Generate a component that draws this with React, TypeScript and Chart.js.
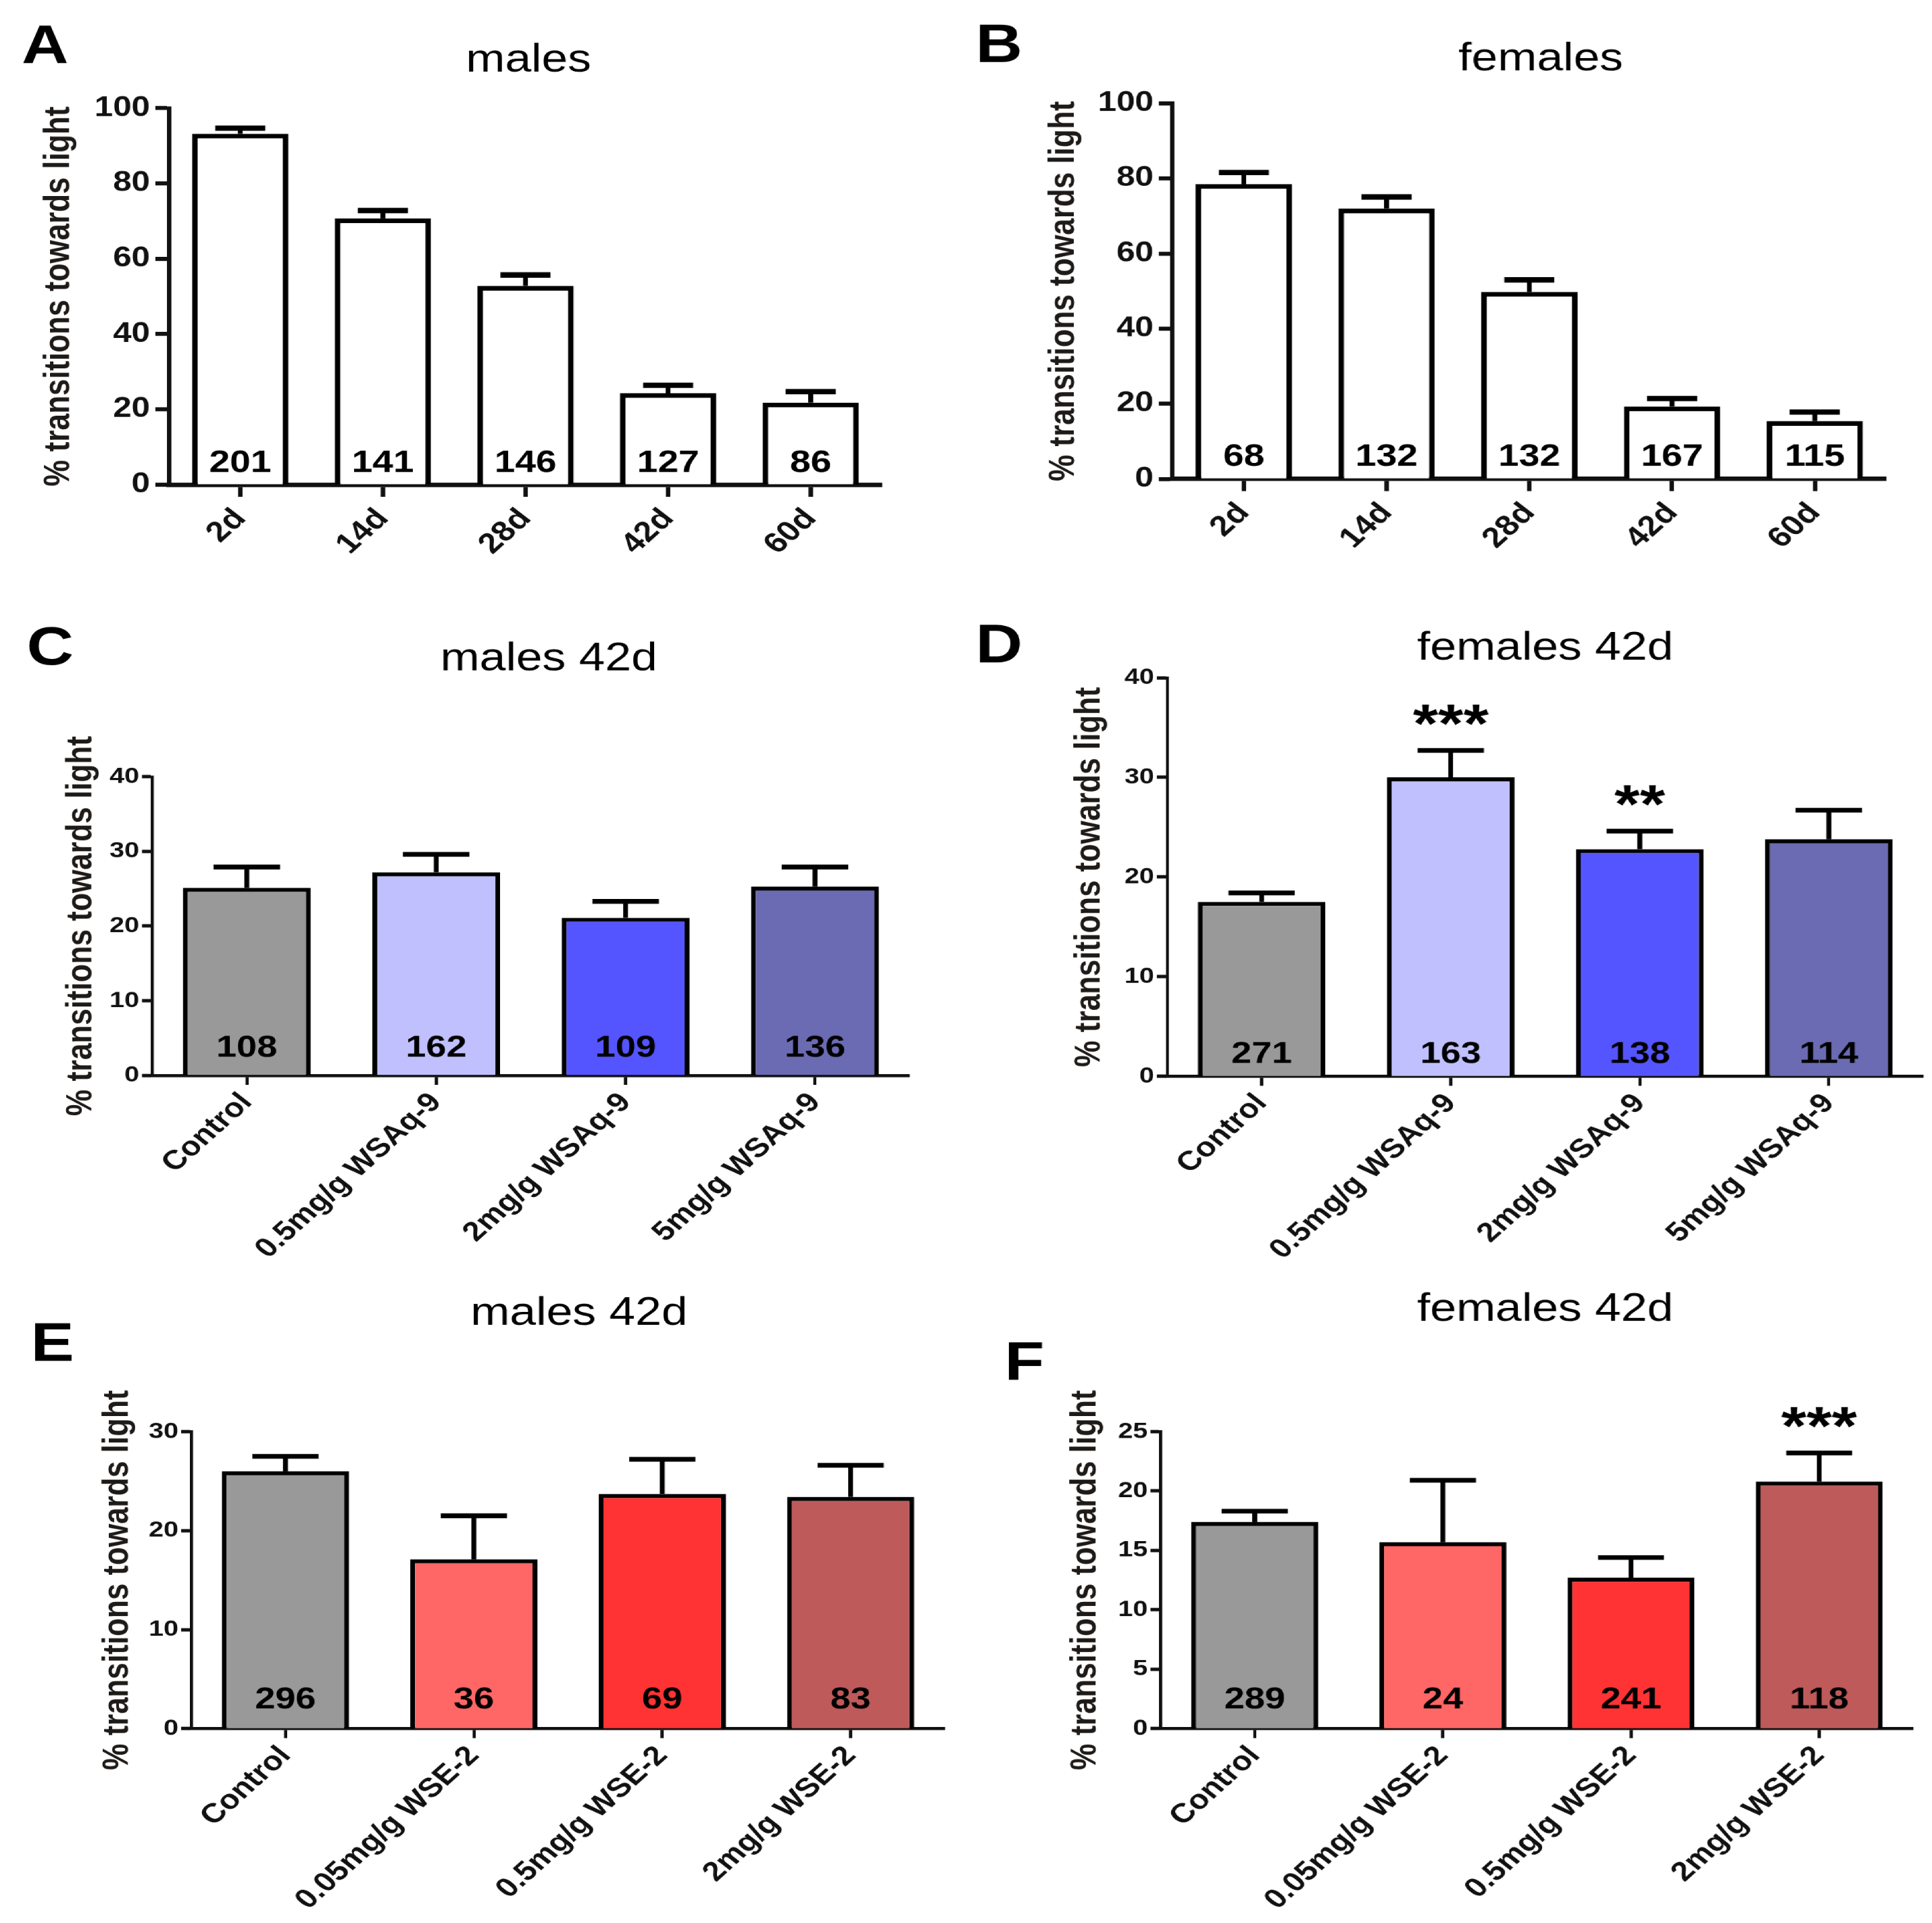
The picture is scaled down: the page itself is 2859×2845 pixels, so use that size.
import React, { useEffect, useRef } from 'react';
import { Chart, registerables } from 'chart.js';

Chart.register(...registerables);

const FONT = '"Liberation Sans", Arial, Helvetica, sans-serif';
const STRETCH_X = 1.2;
const Y_TITLE = '% transitions towards light';

// ---------- data ----------
const ageLabels = ['2d', '14d', '28d', '42d', '60d'];
const malesAgeMeans = [93.2, 70.7, 52.8, 24.3, 21.8];
const malesAgeSem = [1.5, 2.1, 2.9, 2.1, 2.9];
const malesAgeN = ['201', '141', '146', '127', '86'];
const femalesAgeMeans = [78.5, 72.0, 49.8, 19.3, 15.4];
const femalesAgeSem = [3.1, 3.1, 3.2, 2.1, 2.4];
const femalesAgeN = ['68', '132', '132', '167', '115'];

const wsaqLabels = ['Control', '0.5mg/g WSAq-9', '2mg/g WSAq-9', '5mg/g WSAq-9'];
const wsaqColors = ['#999999', '#c0c0ff', '#5555ff', '#6b6bb3'];
const malesWsaqMeans = [25.1, 27.2, 21.1, 25.3];
const malesWsaqSem = [2.8, 2.4, 2.2, 2.6];
const malesWsaqN = ['108', '162', '109', '136'];
const femalesWsaqMeans = [17.5, 30.0, 22.8, 23.8];
const femalesWsaqSem = [0.9, 2.7, 1.8, 2.9];
const femalesWsaqN = ['271', '163', '138', '114'];
const femalesWsaqStars = ['', '***', '**', ''];

const wseLabels = ['Control', '0.05mg/g WSE-2', '0.5mg/g WSE-2', '2mg/g WSE-2'];
const wseColors = ['#999999', '#ff6666', '#ff3333', '#bf5a5a'];
const malesWseMeans = [26.0, 17.1, 23.7, 23.4];
const malesWseSem = [1.5, 4.4, 3.5, 3.2];
const malesWseN = ['296', '36', '69', '83'];
const femalesWseMeans = [17.4, 15.7, 12.7, 20.8];
const femalesWseSem = [0.9, 5.2, 1.7, 2.4];
const femalesWseN = ['289', '24', '241', '118'];
const femalesWseStars = ['', '', '', '***'];

// ---------- styles ----------
const BIG = {
  yTickFont: 41, xTickFont: 42, yTickLen: 16.7, yTickPad: 6.7, yTickW: 6,
  xTickLen: 18, xTickW: 5.5, xTickPad: 8, xAxisW: 6.5, yAxisW: 5.5,
  barBorder: 7, stemW: 6, capW: 8, nFont: 46, starFont: 80, starGap: 38,
};
const SMALL = {
  yTickFont: 33, xTickFont: 40, yTickLen: 12.5, yTickPad: 3.3, yTickW: 5,
  xTickLen: 14, xTickW: 4, xTickPad: 3, xAxisW: 4.5, yAxisW: 3.8,
  barBorder: 6, stemW: 6, capW: 7, nFont: 45, starFont: 80, starGap: 38,
};

type Panel = {
  letter: string; title: string; labels: string[]; means: number[]; sem: number[];
  n: string[]; stars: string[] | null; colors: string | string[]; yMax: number; yStep: number;
  st: typeof BIG;
  box: { left: number; top: number; width: number; height: number };
  area: { left: number; right: number; top: number; bottom: number };
  yTitleX: number; letterXY: [number, number]; titleXY: [number, number]; nOffset: number;
};

const panels: Panel[] = [
  {
    letter: 'A', title: 'males', labels: ageLabels, means: malesAgeMeans, sem: malesAgeSem, n: malesAgeN,
    stars: null, colors: '#ffffff', yMax: 100, yStep: 20, st: BIG,
    box: { left: 0, top: 0, width: 1191, height: 880 },
    area: { left: 208.3, right: 1087.5, top: 160, bottom: 717 },
    yTitleX: 73, letterXY: [26.7, 93], titleXY: [651.7, 106], nOffset: 19,
  },
  {
    letter: 'B', title: 'females', labels: ageLabels, means: femalesAgeMeans, sem: femalesAgeSem, n: femalesAgeN,
    stars: null, colors: '#ffffff', yMax: 100, yStep: 20, st: BIG,
    box: { left: 1191, top: 0, width: 1191, height: 880 },
    area: { left: 1445.8, right: 2325.8, top: 153, bottom: 708.5 },
    yTitleX: 1312, letterXY: [1203, 92], titleXY: [1900, 104], nOffset: 19,
  },
  {
    letter: 'C', title: 'males 42d', labels: wsaqLabels, means: malesWsaqMeans, sem: malesWsaqSem, n: malesWsaqN,
    stars: null, colors: wsaqColors, yMax: 40, yStep: 10, st: SMALL,
    box: { left: 0, top: 880, width: 1191, height: 1000 },
    area: { left: 187.5, right: 1121.7, top: 1149, bottom: 1591 },
    yTitleX: 100, letterXY: [33, 983], titleXY: [676.7, 992], nOffset: 28,
  },
  {
    letter: 'D', title: 'females 42d', labels: wsaqLabels, means: femalesWsaqMeans, sem: femalesWsaqSem, n: femalesWsaqN,
    stars: femalesWsaqStars, colors: wsaqColors, yMax: 40, yStep: 10, st: SMALL,
    box: { left: 1191, top: 880, width: 1191, height: 1000 },
    area: { left: 1439.2, right: 2371.7, top: 1002.6, bottom: 1592.3 },
    yTitleX: 1344, letterXY: [1203, 980], titleXY: [1905.4, 975.6], nOffset: 20,
  },
  {
    letter: 'E', title: 'males 42d', labels: wseLabels, means: malesWseMeans, sem: malesWseSem, n: malesWseN,
    stars: null, colors: wseColors, yMax: 30, yStep: 10, st: SMALL,
    box: { left: 0, top: 1880, width: 1191, height: 960 },
    area: { left: 235.8, right: 1165, top: 2118, bottom: 2557.4 },
    yTitleX: 145, letterXY: [38, 2013], titleXY: [714, 1960], nOffset: 30,
  },
  {
    letter: 'F', title: 'females 42d', labels: wseLabels, means: femalesWseMeans, sem: femalesWseSem, n: femalesWseN,
    stars: femalesWseStars, colors: wseColors, yMax: 25, yStep: 5, st: SMALL,
    box: { left: 1191, top: 1880, width: 1191, height: 960 },
    area: { left: 1431.25, right: 2359.2, top: 2118, bottom: 2557.4 },
    yTitleX: 1339, letterXY: [1239, 2041], titleXY: [1905.4, 1954], nOffset: 30,
  },
];

const Y_TITLE_SIZE = 44;
const INK = '#111111';

function PanelChart({ p }: { p: Panel }) {
  const ref = useRef<HTMLCanvasElement | null>(null);

  useEffect(() => {
    const canvas = ref.current;
    if (!canvas) return;
    const { box, area, st } = p;
    const padLeft = p.yTitleX - Y_TITLE_SIZE / 2 - box.left;
    const yWidth = area.left - box.left - padLeft;
    const padTop = area.top - box.top;
    const padRight = box.left + box.width - area.right;
    const xHeight = box.top + box.height - area.bottom;

    const annotate = {
      id: 'annotate',
      afterDatasetsDraw(chart: any) {
        const ctx = chart.ctx as CanvasRenderingContext2D;
        const yScale = chart.scales.y;
        const meta = chart.getDatasetMeta(0);
        const zeroY = yScale.getPixelForValue(0);
        ctx.save();
        ctx.strokeStyle = '#000';
        ctx.fillStyle = '#000';
        ctx.lineCap = 'butt';
        meta.data.forEach((bar: any, i: number) => {
          const { x, y, width } = bar.getProps(['x', 'y', 'width'], true);
          const capY = yScale.getPixelForValue(p.means[i] + p.sem[i]);
          ctx.lineWidth = st.stemW;
          ctx.beginPath();
          ctx.moveTo(x, y);
          ctx.lineTo(x, capY);
          ctx.stroke();
          const hw = width * 0.26;
          ctx.lineWidth = st.capW;
          ctx.beginPath();
          ctx.moveTo(x - hw, capY);
          ctx.lineTo(x + hw, capY);
          ctx.stroke();

          ctx.font = `bold ${st.nFont}px ${FONT}`;
          ctx.textAlign = 'center';
          ctx.textBaseline = 'alphabetic';
          ctx.fillText(p.n[i], x, zeroY - p.nOffset);

          if (p.stars && p.stars[i]) {
            ctx.font = `bold ${st.starFont}px ${FONT}`;
            const m = ctx.measureText(p.stars[i]);
            const glyphBottom = capY - st.starGap;
            ctx.fillText(p.stars[i], x, glyphBottom - m.actualBoundingBoxDescent);
          }
        });
        ctx.textBaseline = 'alphabetic';
        ctx.textAlign = 'left';
        ctx.font = `bold 80px ${FONT}`;
        ctx.fillText(p.letter, p.letterXY[0] - box.left, p.letterXY[1] - box.top);
        ctx.textAlign = 'center';
        ctx.font = `58px ${FONT}`;
        ctx.fillText(p.title, p.titleXY[0] - box.left, p.titleXY[1] - box.top);
        ctx.restore();
      },
    };

    canvas.width = box.width;
    canvas.height = box.height;

    const chart = new Chart(canvas, {
      type: 'bar',
      data: {
        labels: p.labels,
        datasets: [
          {
            data: p.means,
            backgroundColor: p.colors as any,
            borderColor: '#000000',
            borderWidth: st.barBorder,
            borderSkipped: 'bottom',
            barPercentage: 0.675,
            categoryPercentage: 1,
          },
        ],
      },
      options: {
        responsive: false,
        animation: false,
        devicePixelRatio: 1.2,
        events: [],
        layout: { padding: { left: padLeft, top: padTop, right: padRight, bottom: 0 } },
        plugins: {
          legend: { display: false },
          tooltip: { enabled: false },
          title: { display: false },
        },
        scales: {
          x: {
            offset: true,
            z: 1,
            grid: {
              display: true,
              drawOnChartArea: false,
              drawTicks: true,
              offset: false,
              tickLength: st.xTickLen,
              tickWidth: st.xTickW,
              tickColor: INK,
              color: INK,
            },
            border: { display: true, color: INK, width: st.xAxisW },
            ticks: {
              autoSkip: false,
              minRotation: 47,
              maxRotation: 47,
              padding: st.xTickPad,
              color: INK,
              font: { family: FONT, size: st.xTickFont, weight: 'bold' },
            },
            afterFit: (s: any) => {
              s.height = xHeight;
            },
          },
          y: {
            min: 0,
            max: p.yMax,
            grid: {
              display: true,
              drawOnChartArea: false,
              drawTicks: true,
              tickLength: st.yTickLen,
              tickWidth: st.yTickW,
              tickColor: INK,
              color: INK,
            },
            border: { display: true, color: INK, width: st.yAxisW },
            ticks: {
              stepSize: p.yStep,
              padding: st.yTickPad,
              color: INK,
              font: { family: FONT, size: st.yTickFont, weight: 'bold' },
            },
            title: {
              display: true,
              text: Y_TITLE,
              color: '#1e1a18',
              padding: 0,
              font: { family: FONT, size: Y_TITLE_SIZE, weight: 'bold', lineHeight: 1 },
            },
            afterFit: (s: any) => {
              s.width = yWidth;
            },
          },
        },
      } as any,
      plugins: [annotate],
    });

    return () => {
      chart.destroy();
    };
  }, [p]);

  return (
    <canvas
      ref={ref}
      width={p.box.width}
      height={p.box.height}
      style={{ position: 'absolute', left: p.box.left, top: p.box.top }}
    />
  );
}

export default function App() {
  useEffect(() => {
    document.body.style.margin = '0';
  }, []);
  return (
    <div
      style={{
        position: 'absolute',
        left: 0,
        top: 0,
        width: 2859,
        height: 2845,
        overflow: 'hidden',
        background: '#ffffff',
      }}
    >
      <div
        style={{
          position: 'absolute',
          left: 0,
          top: 0,
          width: 2382,
          height: 2845,
          transform: `scale(${STRETCH_X}, 1)`,
          transformOrigin: '0 0',
        }}
      >
        {panels.map((p) => (
          <PanelChart key={p.letter} p={p} />
        ))}
      </div>
    </div>
  );
}
